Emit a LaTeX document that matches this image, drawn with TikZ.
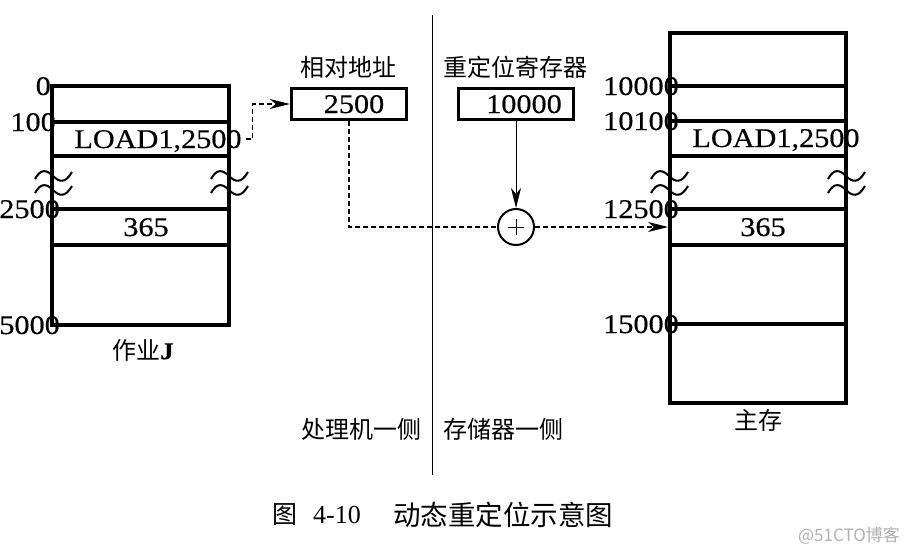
\documentclass[tikz,border=0pt]{standalone}
\usepackage{fontspec}
\setmainfont{Liberation Serif}
\newfontfamily\latf[FakeStretch=1.12,FakeBold=0.4]{Liberation Serif}
\newfontfamily\cjkf{Noto Sans CJK SC}
\usetikzlibrary{arrows.meta}
\begin{document}
\begin{tikzpicture}[x=1pt,y=-1pt,
  memline/.style={line width=3.4pt},
  num/.style={font=\latf\fontsize{27}{30}\selectfont, inner sep=0pt, text height=18pt, text depth=0pt},
  zh/.style={font=\cjkf\fontsize{24}{27}\selectfont, inner sep=0pt},
  regbox/.style={draw, line width=3.4pt, minimum width=115pt, minimum height=31pt, inner sep=0pt},
  dsh/.style={line width=1.1pt, dash pattern=on 5pt off 3pt},
  tip/.style={-{Stealth[length=20pt,width=10pt,inset=6pt]}},
  wavy/.pic={
    \draw[line width=2pt] (0,3) .. controls (6,-8) and (12,-6) .. (18,0) .. controls (24,6) and (30,8) .. (37,-4);
    \draw[line width=2pt] (0,17) .. controls (6,6) and (12,8) .. (18,14) .. controls (24,20) and (30,22) .. (37,10);
  }]
\useasboundingbox (0,0) rectangle (908,554);
\fill[white] (0,0) rectangle (908,554);

% ---- job J (left) ----
\node[num, anchor=east] (j0) at (51,86) {0};
\node[num, anchor=east] (j100) at (56,122) {100};
\node[num, anchor=east] (j2500) at (60,209) {2500};
\node[num, anchor=east] (j5000) at (60,325) {5000};
\draw[memline] (52,86) rectangle (229,325);
\foreach \yy in {122,156,209,245} \draw[memline] (52,\yy) -- (229,\yy);
\node[num] (ldj) at (158,139) {LOAD1,2500};
\node[num] (j365) at (146,227) {365};
\pic at (35,176) {wavy};
\pic at (211,176) {wavy};
\node[zh] (jobname) at (143,350) {作业\latf\bfseries J};

% ---- registers ----
\node[regbox] (rel) at (349,104) {};
\node[num] (reltext) at (354,104) {2500};
\node[zh] (rellab) at (348,67) {相对地址};
\node[regbox] (reloc) at (516,104) {};
\node[num] (reloctext) at (524,104) {10000};
\node[zh] (reloclab) at (515,67) {重定位寄存器};

% ---- adder ----
\node[circle, draw, line width=2pt, minimum size=36pt, inner sep=0pt] (plus) at (516,227) {};
\draw[line width=1pt] ([xshift=-8pt]plus.center) -- ([xshift=8pt]plus.center);
\draw[line width=1pt] ([yshift=-8pt]plus.center) -- ([yshift=8pt]plus.center);

% ---- separator ----
\draw[line width=1pt] (432,15) -- (432,475);
\node[zh] (cpuside) at (361,429) {处理机一侧};
\node[zh] (memside) at (503,429) {存储器一侧};

% ---- main memory (right) ----
\node[num, anchor=east] (m10000) at (679,86) {10000};
\node[num, anchor=east] (m10100) at (679,121) {10100};
\node[num, anchor=east] (m12500) at (679,209) {12500};
\node[num, anchor=east] (m15000) at (679,324) {15000};
\draw[memline] (670,33) rectangle (846,403);
\foreach \yy in {86,121,156,209,245,324} \draw[memline] (670,\yy) -- (846,\yy);
\node[num] (ldm) at (776,138) {LOAD1,2500};
\node[num] (m365) at (763,227) {365};
\pic at (651,176) {wavy};
\pic at (828,176) {wavy};
\node[zh] (memname) at (758,420) {主存};
\coordinate (mw) at (668,227);

% ---- connectors ----
\draw[dsh, tip] ([xshift=4pt]ldj.east) -- ++(7,0) |- (rel.west);
\draw[line width=1pt, tip] (reloc.south) -- (plus.north);
\draw[dsh] (rel.south) |- (plus.west);
\draw[dsh, tip] (plus.east) -- (mw);

% ---- caption ----
\node[font=\cjkf\fontsize{25}{28}\selectfont, inner sep=0pt] (capfig) at (285,515) {图};
\node[font=\fontsize{26}{28}\selectfont, inner sep=0pt] (capnum) at (337,515) {4-10};
\node[font=\cjkf\fontsize{27.5}{30}\selectfont, inner sep=0pt] (captext) at (503,515) {动态重定位示意图};
\node[font=\cjkf\fontsize{17}{20}\selectfont, text=black!30, inner sep=0pt] (wm) at (849,536) {@51CTO博客};
\end{tikzpicture}
\end{document}
